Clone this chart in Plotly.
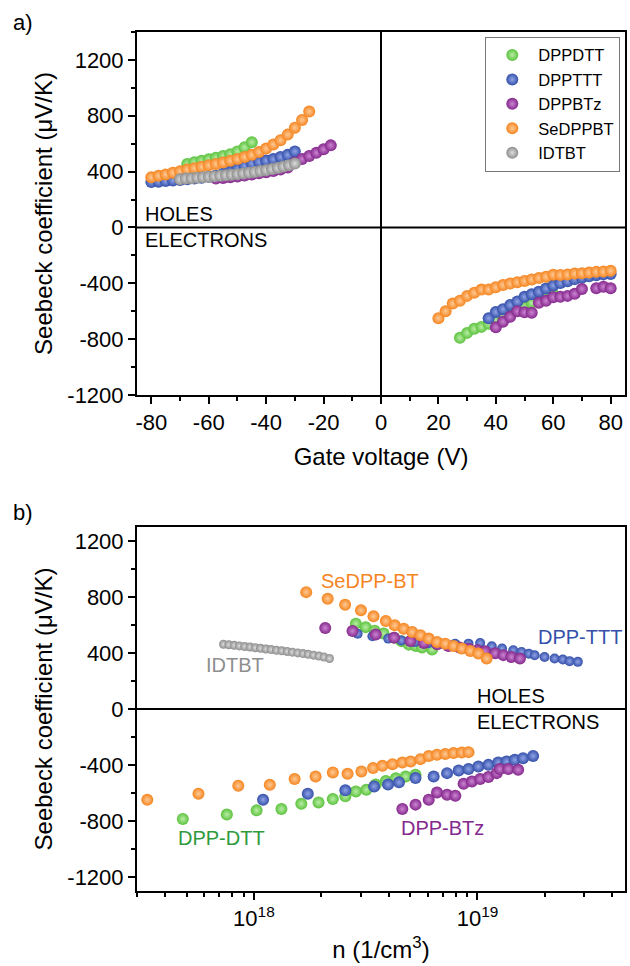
import plotly.graph_objects as go

# ---------------- Panel a: Seebeck vs gate voltage ----------------
dppdtt_h_v = [-67.5, -65, -62.5, -60, -57.5, -55, -52.5, -50, -47.5, -45]
dppdtt_h_s = [455, 468, 478, 488, 500, 512, 525, 545, 575, 610]
dppdtt_e_v = [27.5, 30, 32.5, 35, 37.5, 40, 42.5, 45, 47.5, 50, 52.5, 55, 57.5, 60]
dppdtt_e_s = [-790, -755, -725, -712, -690, -665, -640, -615, -595, -570, -540, -520, -500, -480]

dppttt_h_v = [-80, -77.5, -75, -72.5, -70, -67.5, -65, -62.5, -60, -57.5, -55, -52.5, -50,
              -47.5, -45, -42.5, -40, -37.5, -35, -32.5, -30]
dppttt_h_s = [325, 328, 332, 336, 340, 345, 350, 356, 364, 372, 385, 400, 420,
              440, 458, 470, 480, 490, 505, 520, 545]
dppttt_e_v = [37.5, 40, 42.5, 45, 47.5, 50, 52.5, 55, 57.5, 60, 62.5, 65, 67.5, 70, 72.5, 75, 77.5, 80]
dppttt_e_s = [-650, -605, -585, -555, -530, -497, -478, -460, -437, -415, -398, -385, -370, -360,
              -350, -342, -336, -333]

dppbtz_h_v = [-57.5, -55, -52.5, -50, -47.5, -45, -42.5, -40, -37.5, -35, -32.5, -30, -27.5,
              -25, -22.5, -20, -17.5]
dppbtz_h_s = [350, 355, 360, 365, 372, 380, 388, 396, 405, 415, 430, 465, 490, 512, 535, 560, 588]
dppbtz_e_v = [40, 42.5, 45, 47.5, 50, 52.5, 55, 57.5, 60, 62.5, 65, 67.5, 70, 75, 77.5, 80]
dppbtz_e_s = [-715, -675, -640, -600, -608, -610, -540, -525, -500, -497, -490, -475, -440, -435, -425, -435]

sedppbt_h_v = [-80, -77.5, -75, -72.5, -70, -67.5, -65, -62.5, -60, -57.5, -55, -52.5, -50,
               -47.5, -45, -42.5, -40, -37.5, -35, -32.5, -30, -27.5, -25]
sedppbt_h_s = [360, 370, 380, 392, 402, 415, 425, 435, 445, 455, 465, 478, 490,
               505, 520, 540, 565, 595, 625, 665, 715, 770, 830]
sedppbt_e_v = [20, 22.5, 25, 27.5, 30, 32.5, 35, 37.5, 40, 42.5, 45, 47.5, 50, 52.5, 55, 57.5,
               60, 62.5, 65, 67.5, 70, 72.5, 75, 77.5, 80]
sedppbt_e_s = [-650, -600, -545, -525, -490, -468, -445, -445, -428, -412, -402, -392, -383, -372,
               -362, -353, -338, -340, -337, -330, -328, -323, -318, -316, -310]

idtbt_h_v = [-70, -68, -66, -64, -62, -60, -58, -56, -54, -52, -50, -48, -46, -44, -42, -40,
             -38, -36, -34, -32, -30]
idtbt_h_s = [345, 350, 352, 356, 360, 363, 366, 370, 374, 378, 382, 387, 392, 398, 404, 410,
             418, 426, 436, 446, 458]

# ---------------- Panel b: Seebeck vs carrier density (log10 of n in 1/cm^3) ----------------
sedppbt_h_logn = [18.234, 18.33, 18.408, 18.479, 18.535, 18.59, 18.63, 18.67, 18.708, 18.745,
                  18.782, 18.819, 18.856, 18.893, 18.93, 18.968, 19.004, 19.041]
sedppbt_h_sb = [835, 788, 745, 705, 662, 628, 598, 574, 550, 527, 503, 479, 467, 451, 432, 415, 396, 361]
sedppbt_e_logn = [17.523, 17.752, 17.93, 18.071, 18.182, 18.276, 18.353, 18.419, 18.481, 18.533,
                  18.575, 18.62, 18.664, 18.701, 18.745, 18.782, 18.819, 18.856, 18.893, 18.93, 18.96]
sedppbt_e_sb = [-648, -605, -548, -541, -500, -482, -453, -463, -446, -422, -406, -394, -382, -375,
                -358, -335, -327, -322, -315, -311, -308]

dppdtt_h_logn = [18.456, 18.50, 18.54, 18.58, 18.627, 18.66, 18.693, 18.725, 18.752, 18.797]
dppdtt_h_sb = [610, 585, 560, 540, 510, 485, 460, 450, 440, 425]
dppdtt_e_logn = [17.682, 17.879, 18.012, 18.123, 18.212, 18.289, 18.353, 18.409, 18.456, 18.503,
                 18.545, 18.59, 18.635, 18.679, 18.723]
dppdtt_e_sb = [-785, -754, -724, -714, -676, -667, -643, -624, -589, -577, -540, -515, -495, -482, -470]

dppttt_h_logn = [18.464, 18.53, 18.601, 18.66, 18.72, 18.78, 18.84, 18.90, 18.96, 19.012, 19.064,
                 19.11, 19.16, 19.197, 19.23, 19.256, 19.30, 19.345, 19.382, 19.412, 19.449]
dppttt_h_sb = [538, 520, 503, 490, 478, 470, 466, 466, 467, 472, 448, 432, 420, 408, 395, 384, 372,
               361, 354, 342, 337]
dppttt_e_logn = [18.041, 18.241, 18.409, 18.538, 18.60, 18.649, 18.723, 18.804, 18.864, 18.916,
                 18.96, 19.004, 19.049, 19.093, 19.13, 19.167, 19.204, 19.249]
dppttt_e_sb = [-648, -605, -581, -553, -540, -524, -493, -482, -458, -439, -429, -411, -399, -382,
               -375, -363, -351, -335]

dppbtz_h_logn = [18.319, 18.441, 18.545, 18.627, 18.70, 18.76, 18.82, 18.87, 18.92, 18.96, 19.00,
                 19.034, 19.079, 19.116, 19.152, 19.19]
dppbtz_h_sb = [579, 557, 532, 510, 486, 472, 462, 450, 440, 430, 420, 412, 398, 385, 372, 361]
dppbtz_e_logn = [18.664, 18.723, 18.782, 18.819, 18.864, 18.901, 18.938, 18.975, 19.012, 19.049,
                 19.086, 19.10, 19.138, 19.182]
dppbtz_e_sb = [-714, -683, -648, -596, -612, -619, -534, -517, -500, -486, -458, -429, -429, -434]

idtbt_h_logn = [17.864, 17.888, 17.912, 17.935, 17.959, 17.983, 18.006, 18.03, 18.054, 18.077,
                18.101, 18.125, 18.149, 18.172, 18.196, 18.22, 18.243, 18.267, 18.291, 18.314, 18.338]
idtbt_h_sb = [463, 459, 455, 451, 447, 443, 438, 434, 429, 425, 420, 416, 411, 406, 401, 396,
              391, 385, 379, 371, 361]

legend_names = ["DPPDTT", "DPPTTT", "DPPBTz", "SeDPPBT", "IDTBT"]
y_ticks = [-1200, -800, -400, 0, 400, 800, 1200]
y_ticktext = ["-1200", "-800", "-400", "0", "400", "800", "1200"]
x_ticks_a = [-80, -60, -40, -20, 0, 20, 40, 60, 80]
x_ticktext_a = ["-80", "-60", "-40", "-20", "0", "20", "40", "60", "80"]
x_ticks_b = [1e18, 1e19]
x_ticktext_b = ["10<sup>18</sup>", "10<sup>19</sup>"]

# ---------------- Styles ----------------
FONT = "Liberation Sans, Arial, sans-serif"
COL = {
    "DPPDTT": ("#5cc23e", "#b8eda4"),
    "DPPTTT": ("#3550aa", "#8fa3e6"),
    "DPPBTz": ("#84288c", "#cc84d2"),
    "SeDPPBT": ("#f5851f", "#ffc995"),
    "IDTBT": ("#8e8e8e", "#dddddd"),
}

fig = go.Figure()


def add(x, y, key, xa, ya, show, size):
    c, light = COL[key]
    fig.add_trace(go.Scatter(
        x=x, y=y, mode="markers", name=key, legendgroup=key, showlegend=show,
        marker=dict(size=size, color=c, gradient=dict(type="radial", color=light), line=dict(width=0)),
        xaxis=xa, yaxis=ya, hoverinfo="x+y+name"))


def tolin(logs):
    return [10 ** v for v in logs]


# panel a
add(dppdtt_h_v, dppdtt_h_s, "DPPDTT", "x", "y", True, 12)
add(dppdtt_e_v, dppdtt_e_s, "DPPDTT", "x", "y", False, 12)
add(dppttt_h_v, dppttt_h_s, "DPPTTT", "x", "y", True, 12)
add(dppttt_e_v, dppttt_e_s, "DPPTTT", "x", "y", False, 12)
add(dppbtz_h_v, dppbtz_h_s, "DPPBTz", "x", "y", True, 12)
add(dppbtz_e_v, dppbtz_e_s, "DPPBTz", "x", "y", False, 12)
add(sedppbt_h_v, sedppbt_h_s, "SeDPPBT", "x", "y", True, 12)
add(sedppbt_e_v, sedppbt_e_s, "SeDPPBT", "x", "y", False, 12)
add(idtbt_h_v, idtbt_h_s, "IDTBT", "x", "y", True, 12)

# panel b
add(tolin(dppdtt_h_logn), dppdtt_h_sb, "DPPDTT", "x2", "y2", False, 12)
add(tolin(dppdtt_e_logn), dppdtt_e_sb, "DPPDTT", "x2", "y2", False, 12)
add(tolin(dppttt_h_logn), dppttt_h_sb, "DPPTTT", "x2", "y2", False, 10)
add(tolin(dppttt_e_logn), dppttt_e_sb, "DPPTTT", "x2", "y2", False, 12)
add(tolin(dppbtz_h_logn), dppbtz_h_sb, "DPPBTz", "x2", "y2", False, 12)
add(tolin(dppbtz_e_logn), dppbtz_e_sb, "DPPBTz", "x2", "y2", False, 12)
add(tolin(sedppbt_h_logn), sedppbt_h_sb, "SeDPPBT", "x2", "y2", False, 12)
add(tolin(sedppbt_e_logn), sedppbt_e_sb, "SeDPPBT", "x2", "y2", False, 12)
add(tolin(idtbt_h_logn), idtbt_h_sb, "IDTBT", "x2", "y2", False, 9)

axis_common = dict(showline=True, linewidth=2, linecolor="black", mirror=True, showgrid=False,
                   zeroline=False, ticks="outside", ticklen=7, tickwidth=2, tickcolor="black",
                   tickfont=dict(family=FONT, size=22, color="black"))

fig.update_layout(
    width=630, height=966,
    margin=dict(l=137, r=3, t=32, b=75),
    paper_bgcolor="white", plot_bgcolor="white",
    font=dict(family=FONT, color="black", size=20),
    showlegend=True,
    legend=dict(x=0.7137, y=0.9945, xanchor="left", yanchor="top", bordercolor="#777777",
                borderwidth=1, bgcolor="white", font=dict(family=FONT, size=16.5, color="black"),
                itemsizing="constant", tracegroupgap=0, itemwidth=42),
    xaxis=dict(axis_common, domain=[0, 1], anchor="y", range=[-85, 85], tickvals=x_ticks_a,
               ticktext=x_ticktext_a,
               minor=dict(dtick=10, ticks="outside", ticklen=4, tickwidth=2, tickcolor="black"),
               title=dict(text="Gate voltage (V)", font=dict(family=FONT, size=24), standoff=14)),
    yaxis=dict(axis_common, domain=[0.5774, 1], anchor="x", range=[-1200, 1400], tickvals=y_ticks,
               ticktext=y_ticktext,
               minor=dict(dtick=200, ticks="outside", ticklen=4, tickwidth=2, tickcolor="black"),
               title=dict(text="Seebeck coefficient (μV/K)", font=dict(family=FONT, size=24), standoff=8)),
    xaxis2=dict(axis_common, domain=[0, 1], anchor="y2", type="log", range=[17.477, 19.66],
                tickvals=x_ticks_b, ticktext=x_ticktext_b,
                minor=dict(dtick="D1", ticks="outside", ticklen=4, tickwidth=2, tickcolor="black"),
                title=dict(text="n (1/cm<sup>3</sup>)", font=dict(family=FONT, size=24), standoff=11)),
    yaxis2=dict(axis_common, domain=[0, 0.4237], anchor="x2", range=[-1300, 1300], tickvals=y_ticks,
                ticktext=y_ticktext,
                minor=dict(dtick=200, ticks="outside", ticklen=4, tickwidth=2, tickcolor="black"),
                title=dict(text="Seebeck coefficient (μV/K)", font=dict(family=FONT, size=24), standoff=8)),
)

# zero lines
fig.add_shape(type="line", xref="x", yref="y domain", x0=0, x1=0, y0=0, y1=1,
              line=dict(color="black", width=2))
fig.add_shape(type="line", xref="x domain", yref="y", x0=0, x1=1, y0=0, y1=0,
              line=dict(color="black", width=2))
fig.add_shape(type="line", xref="x2 domain", yref="y2", x0=0, x1=1, y0=0, y1=0,
              line=dict(color="black", width=2))

ann = []
ann.append(dict(text="a)", xref="paper", yref="paper", x=-0.2327, y=1.0116, showarrow=False,
                font=dict(family=FONT, size=22), xanchor="center", yanchor="middle"))
ann.append(dict(text="b)", xref="paper", yref="paper", x=-0.2327, y=0.4412, showarrow=False,
                font=dict(family=FONT, size=22), xanchor="center", yanchor="middle"))
ann.append(dict(text="HOLES", xref="x", yref="y", x=-83, y=0, xanchor="left", yanchor="bottom",
                showarrow=False, font=dict(family=FONT, size=20)))
ann.append(dict(text="ELECTRONS", xref="x", yref="y", x=-83, y=0, xanchor="left", yanchor="top",
                showarrow=False, font=dict(family=FONT, size=20)))
ann.append(dict(text="HOLES", xref="x2", yref="y2", x=18.99, y=0, xanchor="left", yanchor="bottom",
                showarrow=False, font=dict(family=FONT, size=20)))
ann.append(dict(text="ELECTRONS", xref="x2", yref="y2", x=18.99, y=0, xanchor="left", yanchor="top",
                showarrow=False, font=dict(family=FONT, size=20)))
ann.append(dict(text="SeDPP-BT", xref="x2", yref="y2", x=18.289, y=918, xanchor="left",
                showarrow=False, font=dict(family=FONT, size=20, color="#f5851f")))
ann.append(dict(text="DPP-TTT", xref="x2", yref="y2", x=19.262, y=515, xanchor="left",
                showarrow=False, font=dict(family=FONT, size=20, color="#3550aa")))
ann.append(dict(text="IDTBT", xref="x2", yref="y2", x=17.778, y=313, xanchor="left",
                showarrow=False, font=dict(family=FONT, size=20, color="#8e8e8e")))
ann.append(dict(text="DPP-DTT", xref="x2", yref="y2", x=17.653, y=-918, xanchor="left",
                showarrow=False, font=dict(family=FONT, size=20, color="#2e9a3c")))
ann.append(dict(text="DPP-BTz", xref="x2", yref="y2", x=18.649, y=-847, xanchor="left",
                showarrow=False, font=dict(family=FONT, size=20, color="#84288c")))
fig.update_layout(annotations=ann)

fig.write_html("out.html", config={"displayModeBar": False},
               post_script="document.body.style.margin='0';document.body.style.overflow='hidden';")
